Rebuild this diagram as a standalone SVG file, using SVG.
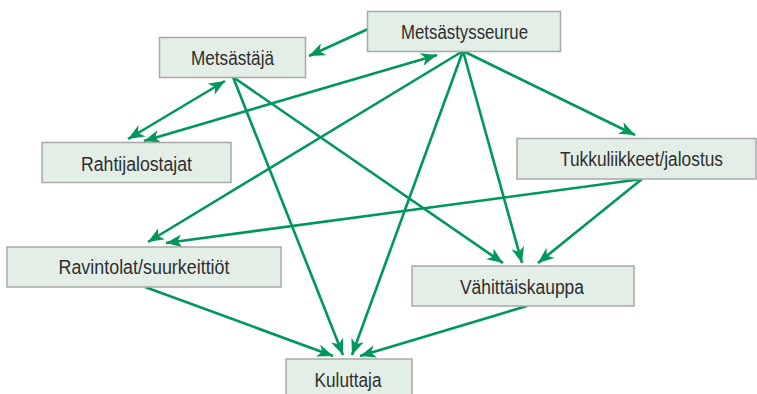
<svg xmlns="http://www.w3.org/2000/svg" width="757" height="394" viewBox="0 0 757 394">
  <style>
    .box { fill: #e3eee6; stroke: #a9a9a9; stroke-width: 1.5; }
    .lbl { font-family: "Liberation Sans", Arial, sans-serif; font-size: 20px; fill: #2e2e2e; text-anchor: start; }
    .con { stroke: #00975a; stroke-width: 2.6; fill: none; marker-end: url(#ah); }
    .dbl { marker-start: url(#ah); }
  </style>
  <defs>
    <marker id="ah" markerUnits="userSpaceOnUse" markerWidth="18" markerHeight="14" viewBox="0 0 18 14" refX="16" refY="7" orient="auto-start-reverse">
      <path d="M0,0.5 L16,7 L0,13.5 L4.5,7 Z" fill="#00975a"/>
    </marker>
  </defs>
  <rect width="757" height="394" fill="#ffffff"/>
  <g id="connectors">
    <line class="con" x1="368" y1="29" x2="309" y2="56"/>
    <line class="con dbl" x1="225" y1="81" x2="128" y2="139"/>
    <line class="con dbl" x1="437" y1="55" x2="144" y2="141"/>
    <line class="con" x1="463" y1="51" x2="635" y2="135"/>
    <line class="con" x1="463" y1="51" x2="522" y2="263"/>
    <line class="con" x1="463" y1="51" x2="352" y2="355"/>
    <line class="con" x1="463" y1="51" x2="148" y2="242"/>
    <line class="con" x1="233" y1="77" x2="343" y2="355"/>
    <line class="con" x1="233" y1="77" x2="503" y2="263"/>
    <line class="con" x1="642" y1="179" x2="538" y2="263"/>
    <line class="con" x1="642" y1="179" x2="166" y2="243"/>
    <line class="con" x1="145" y1="287" x2="333" y2="356"/>
    <line class="con" x1="527" y1="306" x2="360" y2="356"/>
  </g>
  <g id="metsastysseurue">
    <rect class="box" x="367.5" y="11.5" width="193" height="40"/>
    <text class="lbl" x="401" y="39" textLength="127" lengthAdjust="spacingAndGlyphs">Metsästysseurue</text>
  </g>
  <g id="metsastaja">
    <rect class="box" x="159.5" y="37.5" width="146" height="40"/>
    <text class="lbl" x="191" y="64.5" textLength="83" lengthAdjust="spacingAndGlyphs">Metsästäjä</text>
  </g>
  <g id="rahtijalostajat">
    <rect class="box" x="42" y="142.5" width="189" height="40"/>
    <text class="lbl" x="81" y="170.5" textLength="111" lengthAdjust="spacingAndGlyphs">Rahtijalostajat</text>
  </g>
  <g id="tukkuliikkeet">
    <rect class="box" x="517" y="138.5" width="239" height="40.5"/>
    <text class="lbl" x="560" y="166" textLength="163" lengthAdjust="spacingAndGlyphs">Tukkuliikkeet/jalostus</text>
  </g>
  <g id="ravintolat">
    <rect class="box" x="7" y="247" width="274" height="40"/>
    <text class="lbl" x="58.5" y="274" textLength="171" lengthAdjust="spacingAndGlyphs">Ravintolat/suurkeittiöt</text>
  </g>
  <g id="vahittaiskauppa">
    <rect class="box" x="412" y="266" width="222" height="40"/>
    <text class="lbl" x="460" y="293.5" textLength="124" lengthAdjust="spacingAndGlyphs">Vähittäiskauppa</text>
  </g>
  <g id="kuluttaja">
    <rect class="box" x="286" y="359" width="126" height="42"/>
    <text class="lbl" x="314.5" y="386.5" textLength="67" lengthAdjust="spacingAndGlyphs">Kuluttaja</text>
  </g>
</svg>
